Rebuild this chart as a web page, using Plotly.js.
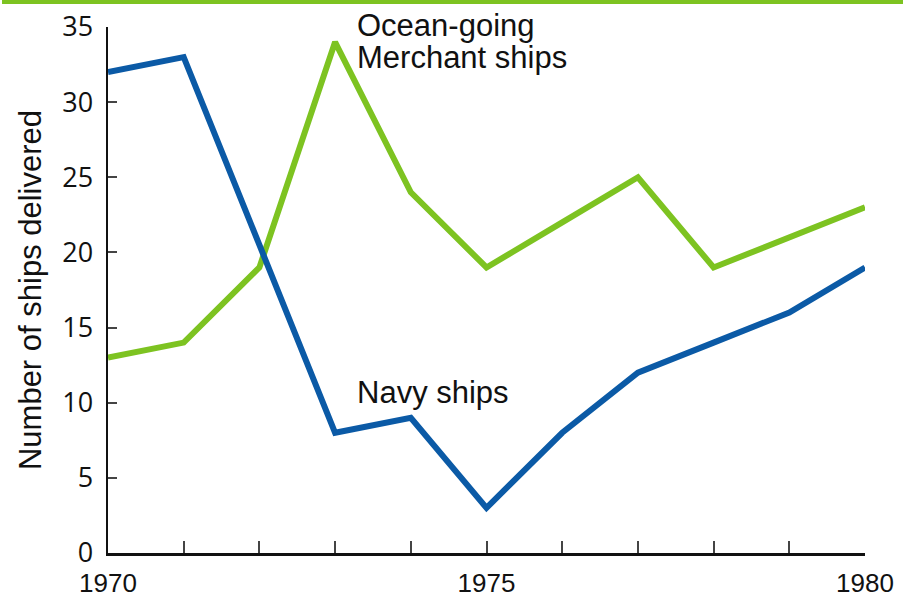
<!DOCTYPE html>
<html><head><meta charset="utf-8">
<script src="https://cdn.plot.ly/plotly-3.0.1.min.js"></script>
<style>html,body{margin:0;padding:0;background:#fff}#chart{width:903px;height:597px}</style>
</head><body><div id="chart"></div>
<script>
const years = [1970,1971,1972,1973,1974,1975,1976,1977,1978,1979,1980];
const navyShips = [32,33,20.5,8,9,3,8,12,14,16,19];
const merchantShips = [13,14,19,34,24,19,22,25,19,21,23];
const xTickVals = years;
const xTickText = ['1970','','','','','1975','','','','','1980'];
const yTickVals = [0,5,10,15,20,25,30,35];

const traces = [
  {x: years, y: merchantShips, mode:'lines', line:{color:'#7dc321', width:6}, hoverinfo:'skip'},
  {x: years, y: navyShips, mode:'lines', line:{color:'#0b5aa6', width:6}, hoverinfo:'skip'}
];
const layout = {
  width:903, height:597,
  margin:{l:108, r:38, t:27, b:44},
  paper_bgcolor:'#fff', plot_bgcolor:'#fff',
  showlegend:false,
  font:{family:'"Liberation Sans", Arial, sans-serif', color:'#111'},
  xaxis:{range:[1970,1980], tickvals:xTickVals, ticktext:xTickText, ticks:'inside', ticklen:12, tickwidth:2, tickcolor:'#444',
    showline:true, linecolor:'#111', linewidth:2.5, showgrid:false, zeroline:false, tickfont:{size:26}, ticklabelstandoff:5, fixedrange:true},
  yaxis:{range:[0,35], tickvals:yTickVals, ticks:'inside', ticklen:9, tickwidth:2, tickcolor:'#444',
    showline:true, linecolor:'#111', linewidth:2.5, showgrid:false, zeroline:false, tickfont:{size:27, family:'"Open Sans", sans-serif'},
    ticklabelstandoff:7,
    title:{text:'Number of ships delivered', font:{size:31}, standoff:12}, fixedrange:true},
  shapes:[{type:'line', xref:'paper', yref:'paper', x0:-0.14, x1:1.06, y0:1+25/526, y1:1+25/526, line:{color:'#7dc321', width:4}}],
  annotations:[
    {xref:'paper', yref:'paper', x:(355-108)/757, y:1-(25-27)/526, xanchor:'left', yanchor:'middle', text:'Ocean-going', showarrow:false, font:{size:31}},
    {xref:'paper', yref:'paper', x:(355-108)/757, y:1-(57-27)/526, xanchor:'left', yanchor:'middle', text:'Merchant ships', showarrow:false, font:{size:31}},
    {xref:'paper', yref:'paper', x:(355-108)/757, y:1-(392-27)/526, xanchor:'left', yanchor:'middle', text:'Navy ships', showarrow:false, font:{size:31}}
  ]
};
Plotly.newPlot('chart', traces, layout, {staticPlot:true, displayModeBar:false});
</script></body></html>
